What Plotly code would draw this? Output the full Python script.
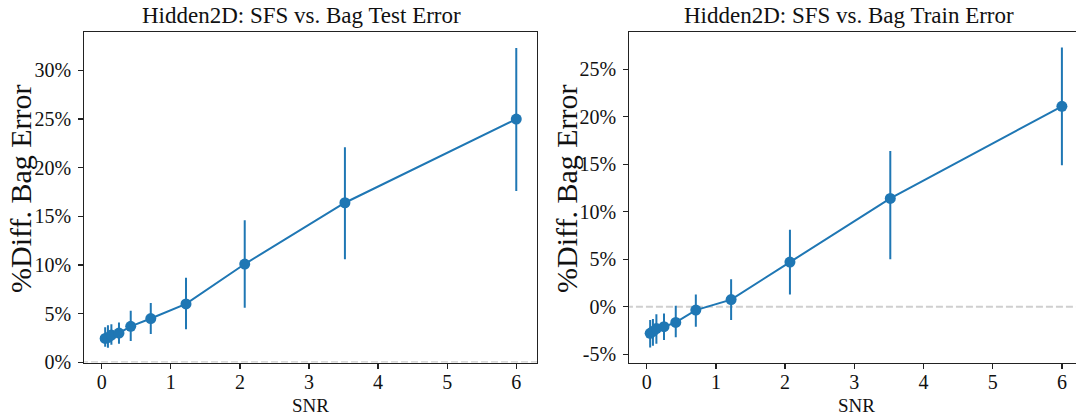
import plotly.graph_objects as go

# ---- data (percent) ----
snr = [0.05, 0.09, 0.14, 0.25, 0.42, 0.71, 1.22, 2.07, 3.52, 6.0]

test_mean = [2.45, 2.55, 2.8, 3.0, 3.7, 4.5, 6.0, 10.1, 16.4, 25.0]
test_hi = [3.6, 3.8, 3.9, 4.1, 5.3, 6.1, 8.7, 14.6, 22.1, 32.3]
test_lo = [1.6, 1.5, 1.8, 1.9, 2.2, 2.9, 3.4, 5.6, 10.6, 17.6]

train_mean = [-2.8, -2.6, -2.3, -2.1, -1.65, -0.35, 0.75, 4.7, 11.4, 21.1]
train_hi = [-1.4, -1.3, -0.8, -0.7, 0.1, 1.3, 2.9, 8.1, 16.4, 27.3]
train_lo = [-4.3, -4.1, -3.9, -3.5, -3.2, -2.1, -1.4, 1.3, 5.0, 14.9]

x_ticks = [0, 1, 2, 3, 4, 5, 6]
test_yticks = [0, 5, 10, 15, 20, 25, 30]
train_yticks = [-5, 0, 5, 10, 15, 20, 25]

titles = ["Hidden2D: SFS vs. Bag Test Error", "Hidden2D: SFS vs. Bag Train Error"]
ylabel = "%Diff. Bag Error"
xlabel = "SNR"

BLUE = "#1f77b4"
FONT = "Liberation Serif"
W, H = 1076, 417

fig = go.Figure()


def add_series(mean, hi, lo, xa, ya):
    plus = [h - m for h, m in zip(hi, mean)]
    minus = [m - l for m, l in zip(mean, lo)]
    fig.add_trace(go.Scatter(
        x=snr, y=mean, mode="lines+markers", xaxis=xa, yaxis=ya,
        line=dict(color=BLUE, width=2),
        marker=dict(color=BLUE, size=11),
        error_y=dict(type="data", array=plus, arrayminus=minus,
                     color=BLUE, thickness=2, width=0),
        showlegend=False,
    ))


# dashed zero reference lines
for xa, ya, rng in (("x", "y", [-0.3, 6.4]), ("x2", "y2", [-0.3, 6.4])):
    fig.add_trace(go.Scatter(
        x=rng, y=[0, 0], mode="lines", xaxis=xa, yaxis=ya,
        line=dict(color="#cfcfcf", width=2, dash="7px,3px"),
        showlegend=False, hoverinfo="skip",
    ))

add_series(test_mean, test_hi, test_lo, "x", "y")
add_series(train_mean, train_hi, train_lo, "x2", "y2")

ydom = [1 - 362.6 / H, 1 - 32 / H]
axis_common = dict(
    showline=True, linecolor="#222222", linewidth=1.2,
    ticks="outside", ticklen=5, tickwidth=1.2, tickcolor="#222222",
    showgrid=False, zeroline=False, automargin=False,
    tickfont=dict(family=FONT, size=20, color="#111111"),
)

fig.update_layout(
    width=W, height=H, autosize=False,
    margin=dict(l=0, r=0, t=0, b=0, pad=0, autoexpand=False),
    paper_bgcolor="white", plot_bgcolor="white",
    xaxis=dict(domain=[84.3 / W, 537 / W], range=[-0.252, 6.30],
               tickvals=x_ticks, ticktext=[str(t) for t in x_ticks],
               mirror=True, anchor="y", ticklabelstandoff=-4, **axis_common),
    yaxis=dict(domain=ydom, range=[-0.03, 33.95],
               tickvals=test_yticks, ticktext=[f"{t}%" for t in test_yticks],
               mirror=True, anchor="x", ticklabelstandoff=3, **axis_common),
    xaxis2=dict(domain=[629.3 / W, 1.0], range=[-0.2514, 6.2037],
                tickvals=x_ticks, ticktext=[str(t) for t in x_ticks],
                mirror=True, anchor="y2", ticklabelstandoff=-4, **axis_common),
    yaxis2=dict(domain=ydom, range=[-5.88, 28.92],
                tickvals=train_yticks, ticktext=[f"{t}%" for t in train_yticks],
                mirror=False, anchor="x2", ticklabelstandoff=3, **axis_common),
)

annots = []
for cx, t in ((301, titles[0]), (849, titles[1])):
    annots.append(dict(x=cx / W, y=1 - 16 / H, xref="paper", yref="paper",
                       text=t, showarrow=False, xanchor="center", yanchor="middle",
                       font=dict(family=FONT, size=23, color="#111111")))
for cx in (310.6, 856):
    annots.append(dict(x=cx / W, y=1 - 405 / H, xref="paper", yref="paper",
                       text=xlabel, showarrow=False, xanchor="center", yanchor="middle",
                       font=dict(family=FONT, size=19, color="#111111")))
for cx in (20, 566):
    annots.append(dict(x=cx / W, y=1 - 189 / H, xref="paper", yref="paper",
                       text=ylabel, showarrow=False, textangle=-90,
                       xanchor="center", yanchor="middle",
                       font=dict(family=FONT, size=30, color="#111111")))
fig.update_layout(annotations=annots)

fig.write_html(
    "out.html",
    config={"responsive": False, "displayModeBar": False, "staticPlot": True},
    post_script=(
        "document.documentElement.style.margin='0';"
        "document.documentElement.style.overflow='hidden';"
        "document.body.style.margin='0';document.body.style.overflow='hidden';"
    ),
)
